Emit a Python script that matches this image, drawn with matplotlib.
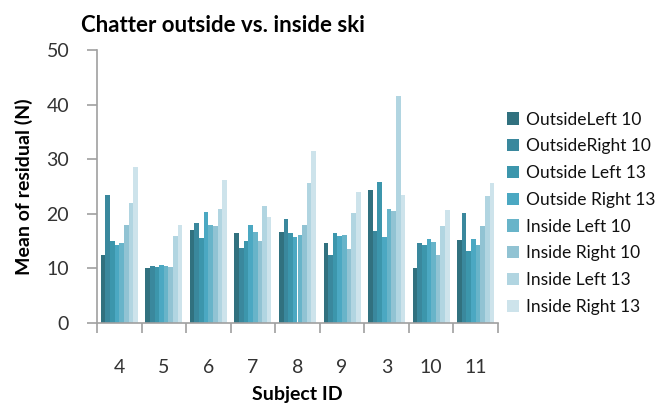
import numpy as np
import matplotlib
matplotlib.use("Agg")
import matplotlib.pyplot as plt
from matplotlib.ticker import FixedLocator

subjects = ["4", "5", "6", "7", "8", "9", "3", "10", "11"]
series = ["OutsideLeft 10", "OutsideRight 10", "Outside Left 13", "Outside Right 13",
          "Inside Left 10", "Inside Right 10", "Inside Left 13", "Inside Right 13"]

outside_left_10 = [12.4, 10.0, 17.1, 16.5, 16.6, 14.7, 24.4, 10.1, 15.2]
outside_right_10 = [23.5, 10.5, 18.4, 13.8, 19.1, 12.4, 16.9, 14.7, 20.2]
outside_left_13 = [15.0, 10.2, 15.5, 15.0, 16.5, 16.5, 25.9, 14.3, 13.2]
outside_right_13 = [14.2, 10.6, 20.4, 18.0, 15.8, 16.0, 15.8, 15.4, 15.4]
inside_left_10 = [14.7, 10.5, 18.0, 16.6, 16.2, 16.2, 20.9, 14.9, 14.3]
inside_right_10 = [18.0, 10.2, 17.7, 15.0, 18.0, 13.6, 20.6, 12.5, 17.8]
inside_left_13 = [22.0, 16.0, 20.9, 21.5, 25.7, 20.2, 41.5, 17.8, 23.2]
inside_right_13 = [28.6, 18.0, 26.1, 19.5, 31.5, 24.0, 23.5, 20.7, 25.7]

values = [outside_left_10, outside_right_10, outside_left_13, outside_right_13,
          inside_left_10, inside_right_10, inside_left_13, inside_right_13]

colors = ["#31717f", "#3a889d", "#3c96ac", "#4ba8c2",
          "#68b4c9", "#91c3d3", "#b1d5e1", "#cde3eb"]

plt.rcParams['font.family'] = ['Lato', 'DejaVu Sans']

fig = plt.figure(figsize=(6.59, 4.05), dpi=100)
ax = fig.add_axes([97 / 659, 82 / 405, 401 / 659, 273 / 405])

x = np.arange(len(subjects))
w = 0.104
for i in range(len(series)):
    ax.bar(x + (i - 3.5) * w, values[i], w, color=colors[i], label=series[i])

ax.set_xlim(-0.5, len(subjects) - 0.5)
ax.set_ylim(0, 50)
ax.set_yticks([0, 10, 20, 30, 40, 50])
ax.set_xticks(x)
ax.set_xticklabels(subjects)
ax.xaxis.set_minor_locator(FixedLocator(np.arange(-0.5, len(subjects), 1.0)))
ax.tick_params(axis='x', which='major', length=0, pad=26, labelsize=14, labelcolor='#333333')
ax.tick_params(axis='x', which='minor', length=7, color='#a0a0a0', width=1.2)
ax.tick_params(axis='y', length=7, color='#a0a0a0', width=1.2, pad=13,
               labelsize=14, labelcolor='#333333')

for s in ['top', 'right']:
    ax.spines[s].set_visible(False)
for s in ['left', 'bottom']:
    ax.spines[s].set_color('#a0a0a0')
    ax.spines[s].set_linewidth(1.2)

ax.set_ylabel("Mean of residual (N)", fontsize=14, fontweight='bold', labelpad=10)
ax.set_xlabel("Subject ID", fontsize=14, fontweight='bold', labelpad=7)

fig.text(223 / 659, 1 - 26 / 405, "Chatter outside vs. inside ski",
         ha='center', va='center', fontsize=16, fontweight='bold')

ax.legend(loc='upper left', bbox_to_anchor=(1.005, 0.8), frameon=False,
          fontsize=12.5, handlelength=0.7, handleheight=0.7, handletextpad=0.4,
          labelspacing=0.62, borderaxespad=0, labelcolor='#111111')

fig.savefig("out.png", dpi=100)
